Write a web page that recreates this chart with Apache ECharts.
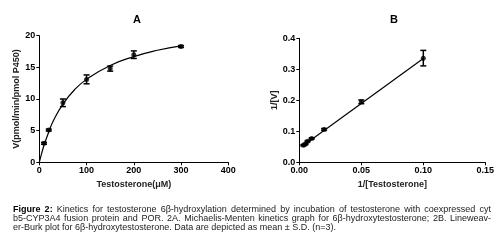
<!DOCTYPE html>
<html>
<head>
<meta charset="utf-8">
<script src="https://cdn.jsdelivr.net/npm/echarts@6/dist/echarts.min.js"></script>
<style>
  html, body { margin: 0; padding: 0; background: #fff; }
  #chart { width: 500px; height: 241px; }
</style>
</head>
<body>
<div id="chart"></div>
<script>
// A: Michaelis-Menten
const substrate = [10, 20, 50, 100, 150, 200, 300];
const velocity = [3.0, 5.1, 9.4, 13.1, 14.8, 17.0, 18.3];
const velocitySD = [0.15, 0.15, 0.6, 0.7, 0.4, 0.6, 0.15];
// fitted curve
const mmFitX = [0, 5, 10, 20, 30, 50, 75, 100, 150, 200, 250, 300];
const mmFitY = [0, 1.4, 2.7, 4.8, 6.6, 9.2, 11.5, 13.1, 15.3, 16.7, 17.7, 18.4];

// B: Lineweaver-Burk
const invSubstrate = [0.0033, 0.005, 0.0067, 0.01, 0.02, 0.05, 0.1];
const invVelocity = [0.055, 0.059, 0.068, 0.077, 0.106, 0.195, 0.336];
const invVelocitySD = [0.002, 0.002, 0.002, 0.002, 0.003, 0.006, 0.025];
const lbLineX = [0.0033, 0.1];
const lbLineY = [0.054, 0.335];

// caption; first two words of line 1 are bold, lines 1-2 justified
const captionLines = [
  "Figure 2: Kinetics for testosterone 6β-hydroxylation determined by incubation of testosterone with coexpressed cyt",
  "b5-CYP3A4 fusion protein and POR. 2A. Michaelis-Menten kinetics graph for 6β-hydroxytestosterone; 2B. Lineweav-",
  "er-Burk plot for 6β-hydroxytestosterone. Data are depicted as mean ± S.D. (n=3).",
];

const FONT = "Liberation Sans, Arial, sans-serif";
const CAP_SIZE = 9;
const CAP_LEFT = 13;
const CAP_RIGHT = 491;
const CAP_TOP = 205;
const CAP_LINE = 9;

const zip = (xs, ys) => xs.map((x, i) => [x, ys[i]]);

function errorBars(xs, ys, sds) {
  return xs.map((x, i) => [x, ys[i] - sds[i], ys[i] + sds[i]]);
}

function renderErr(params, api) {
  const lo = api.coord([api.value(0), api.value(1)]);
  const hi = api.coord([api.value(0), api.value(2)]);
  const cap = 3;
  const style = { stroke: "#000", lineWidth: 1.5 };
  return {
    type: "group",
    children: [
      { type: "line", shape: { x1: lo[0], y1: lo[1], x2: hi[0], y2: hi[1] }, style },
      { type: "line", shape: { x1: lo[0] - cap, y1: lo[1], x2: lo[0] + cap, y2: lo[1] }, style },
      { type: "line", shape: { x1: hi[0] - cap, y1: hi[1], x2: hi[0] + cap, y2: hi[1] }, style },
    ],
  };
}

// place caption words so the first two lines fill the full width
function captionGraphics() {
  const ctx = document.createElement("canvas").getContext("2d");
  const out = [];
  captionLines.forEach((line, li) => {
    const words = line.split(" ");
    const fonts = words.map((w, wi) =>
      (li === 0 && wi < 2 ? "bold " : "") + CAP_SIZE + "px " + FONT
    );
    const widths = words.map((w, wi) => {
      ctx.font = fonts[wi];
      return ctx.measureText(w).width;
    });
    ctx.font = CAP_SIZE + "px " + FONT;
    let gap = ctx.measureText(" ").width;
    if (li < captionLines.length - 1) {
      const total = widths.reduce((a, b) => a + b, 0);
      gap = (CAP_RIGHT - CAP_LEFT - total) / (words.length - 1);
    }
    let x = CAP_LEFT;
    words.forEach((w, wi) => {
      out.push({
        type: "text",
        x: x,
        y: CAP_TOP + li * CAP_LINE,
        style: {
          text: w,
          font: fonts[wi],
          fill: li === 0 && wi < 2 ? "#000" : "#222",
          textVerticalAlign: "top",
        },
      });
      x += widths[wi] + gap;
    });
  });
  return out;
}

function axisBase() {
  return {
    type: "value",
    splitLine: { show: false },
    axisLine: { show: true, onZero: false, lineStyle: { color: "#000", width: 1 } },
    axisTick: { show: true, length: 3, lineStyle: { color: "#000", width: 1 } },
    axisLabel: { color: "#000", fontWeight: "bold", fontSize: 9, fontFamily: FONT, margin: 4 },
    nameLocation: "middle",
    nameTextStyle: { color: "#222", fontWeight: "bold", fontSize: 9, fontFamily: FONT },
  };
}

const options = {
  backgroundColor: "#fff",
  animation: false,
  title: [
    { text: "A", left: 128, top: 9, textStyle: { fontSize: 11, fontWeight: "bold", fontFamily: FONT, color: "#000" } },
    { text: "B", left: 385, top: 9, textStyle: { fontSize: 11, fontWeight: "bold", fontFamily: FONT, color: "#000" } },
  ],
  graphic: captionGraphics(),
  grid: [
    { left: 39.3, top: 35.7, width: 189, height: 126.6 },
    { left: 299.3, top: 38.3, width: 186, height: 124 },
  ],
  xAxis: [
    Object.assign(axisBase(), {
      gridIndex: 0, min: 0, max: 400, interval: 100,
      name: "Testosterone(μM)", nameGap: 16,
    }),
    Object.assign(axisBase(), {
      gridIndex: 1, min: 0, max: 0.15, interval: 0.05,
      name: "1/[Testosterone]", nameGap: 16,
      axisLabel: Object.assign(axisBase().axisLabel, { formatter: (v) => v.toFixed(2) }),
    }),
  ],
  yAxis: [
    Object.assign(axisBase(), {
      gridIndex: 0, min: 0, max: 20, interval: 5,
      name: "V(pmol/min/pmol P450)", nameGap: 15,
    }),
    Object.assign(axisBase(), {
      gridIndex: 1, min: 0, max: 0.4, interval: 0.1,
      name: "1/[V]", nameGap: 20,
      axisLabel: Object.assign(axisBase().axisLabel, { formatter: (v) => v.toFixed(1) }),
    }),
  ],
  series: [
    {
      type: "line", xAxisIndex: 0, yAxisIndex: 0,
      data: zip(mmFitX, mmFitY), smooth: true, symbol: "none",
      lineStyle: { color: "#000", width: 1.2 },
    },
    {
      type: "custom", xAxisIndex: 0, yAxisIndex: 0,
      data: errorBars(substrate, velocity, velocitySD), renderItem: renderErr,
    },
    {
      type: "scatter", xAxisIndex: 0, yAxisIndex: 0,
      data: zip(substrate, velocity), symbol: "circle", symbolSize: 5,
      itemStyle: { color: "#000" },
    },
    {
      type: "line", xAxisIndex: 1, yAxisIndex: 1,
      data: zip(lbLineX, lbLineY), symbol: "none",
      lineStyle: { color: "#000", width: 1.2 },
    },
    {
      type: "custom", xAxisIndex: 1, yAxisIndex: 1,
      data: errorBars(invSubstrate, invVelocity, invVelocitySD), renderItem: renderErr,
    },
    {
      type: "scatter", xAxisIndex: 1, yAxisIndex: 1,
      data: zip(invSubstrate, invVelocity), symbol: "circle", symbolSize: 5,
      itemStyle: { color: "#000" },
    },
  ],
};

const chart = echarts.init(document.getElementById("chart"), null, { renderer: "canvas" });
chart.setOption(options);
</script>
</body>
</html>
